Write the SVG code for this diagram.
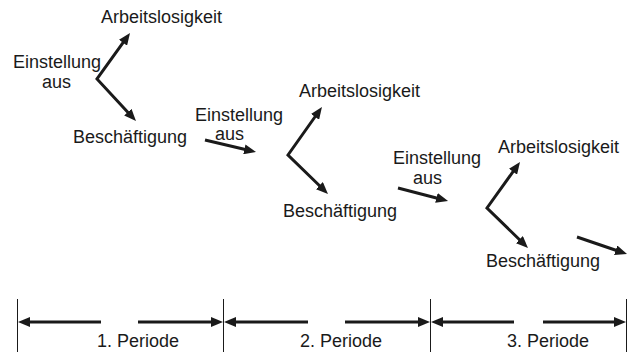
<svg xmlns="http://www.w3.org/2000/svg" width="629" height="352" viewBox="0 0 629 352">
<style>
  text { font-family: "Liberation Sans", Arial, sans-serif; font-size: 18px; fill: #1a1a1a; }
  .a { fill: none; stroke: #1a1a1a; stroke-width: 3; stroke-linejoin: miter; marker-end: url(#ah); }
  .v { marker-start: url(#ah); }
  .bar { stroke: #1a1a1a; stroke-width: 1; }
</style>
<defs>
  <marker id="ah" viewBox="0 0 12 10" markerWidth="12" markerHeight="10" refX="1" refY="5" markerUnits="userSpaceOnUse" orient="auto-start-reverse">
    <path d="M0,0 L12,5 L0,10 z" fill="#1a1a1a"/>
  </marker>
</defs>
<g id="connectors">
  <path class="a v" d="M123.6,41.9 L97,79 L128.5,112.9"/>
  <path class="a" d="M205,140 L245.3,149.5"/>
  <path class="a v" d="M315.6,116 L288,155 L320.1,186.3"/>
  <path class="a" d="M398,188 L437.4,198.2"/>
  <path class="a v" d="M513.6,170.9 L487,208 L520.1,240.3"/>
  <path class="a" d="M577,237 L616.6,250.5"/>
</g>
<g id="period1">
  <text x="101" y="23">Arbeitslosigkeit</text>
  <text x="13" y="68">Einstellung</text>
  <text x="42" y="88">aus</text>
  <text x="73" y="143">Beschäftigung</text>
</g>
<g id="period2">
  <text x="299" y="97">Arbeitslosigkeit</text>
  <text x="195" y="121">Einstellung</text>
  <text x="215" y="140">aus</text>
  <text x="283" y="217">Beschäftigung</text>
</g>
<g id="period3">
  <text x="498" y="153">Arbeitslosigkeit</text>
  <text x="393" y="164">Einstellung</text>
  <text x="413" y="184">aus</text>
  <text x="486" y="267">Beschäftigung</text>
</g>
<g id="timeline">
  <line class="bar" x1="17.5" y1="299" x2="17.5" y2="352"/>
  <line class="bar" x1="223.5" y1="299" x2="223.5" y2="352"/>
  <line class="bar" x1="430.5" y1="299" x2="430.5" y2="352"/>
  <line class="bar" x1="626.5" y1="299" x2="626.5" y2="352"/>
  <path class="a" d="M101,322 L29,322"/>
  <path class="a" d="M138,322 L212,322"/>
  <path class="a" d="M308,322 L235,322"/>
  <path class="a" d="M345,322 L419,322"/>
  <path class="a" d="M514,322 L442,322"/>
  <path class="a" d="M543,322 L615,322"/>
  <text x="97" y="347">1. Periode</text>
  <text x="300" y="347">2. Periode</text>
  <text x="507" y="347">3. Periode</text>
</g>
</svg>
